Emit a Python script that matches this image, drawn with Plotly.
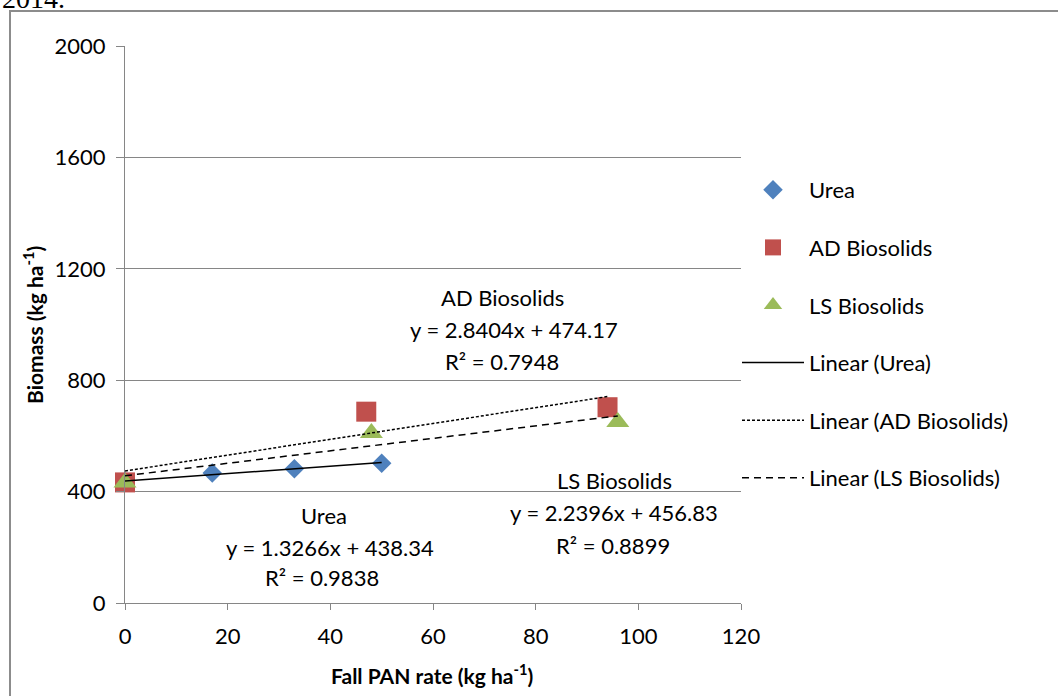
import plotly.graph_objects as go

# ---- data ----
urea_x = [0, 17, 33, 50]
urea_y = [435, 467, 482, 502]
ad_x = [0, 47, 94]
ad_y = [433, 687, 703]
ls_x = [0, 48, 96]
ls_y = [433, 610, 650]

# trendline coefficients (slope, intercept, R2) as printed on chart
urea_fit = (1.3266, 438.34, 0.9838)
ad_fit = (2.8404, 474.17, 0.7948)
ls_fit = (2.2396, 456.83, 0.8899)

x_ticks = [0, 20, 40, 60, 80, 100, 120]
y_ticks = [0, 400, 800, 1200, 1600, 2000]

colors = {"urea": "#4F81BD", "ad": "#C0504D", "ls": "#9BBB59"}
FONT = "Lato"

# plot area in pixels
W, H = 1058, 696
L, R, T, B = 125, 741, 46, 603


def px_x(p):
    return (p - L) / (R - L)


def px_y(p):
    return (B - p) / (B - T)


fig = go.Figure()

fig.add_trace(go.Scatter(x=urea_x, y=urea_y, mode="markers", name="Urea",
                         marker=dict(symbol="diamond", size=15, color=colors["urea"]),
                         cliponaxis=False, legendgroup="a"))
fig.add_trace(go.Scatter(x=ad_x, y=ad_y, mode="markers", name="AD Biosolids",
                         marker=dict(symbol="square", size=20, color=colors["ad"]),
                         cliponaxis=False, legendgroup="b"))
fig.add_trace(go.Scatter(x=ls_x, y=ls_y, mode="markers", name="LS Biosolids",
                         marker=dict(symbol="triangle-up", size=20, color=colors["ls"]),
                         cliponaxis=False, legendgroup="c"))


def trend(xs, fit):
    x0, x1 = min(xs), max(xs)
    return [x0, x1], [fit[1] + fit[0] * x0, fit[1] + fit[0] * x1]


tx, ty = trend(urea_x, urea_fit)
fig.add_trace(go.Scatter(x=tx, y=ty, mode="lines", name="Linear (Urea)",
                         line=dict(color="black", width=1.5), legendgroup="d"))
tx, ty = trend(ad_x, ad_fit)
fig.add_trace(go.Scatter(x=tx, y=ty, mode="lines", name="Linear (AD Biosolids)",
                         line=dict(color="black", width=1.5, dash="3px,2px"), legendgroup="e"))
tx, ty = trend(ls_x, ls_fit)
fig.add_trace(go.Scatter(x=tx, y=ty, mode="lines", name="Linear (LS Biosolids)",
                         line=dict(color="black", width=1.5, dash="7px,5px"), legendgroup="f"))

annotations = []


def add_text(text, cx, cy, size=22, bold=False, angle=0, family=FONT, xanchor="center", yanchor="middle"):
    annotations.append(dict(text=text, x=px_x(cx), y=px_y(cy), xref="paper", yref="paper",
                            showarrow=False, xanchor=xanchor, yanchor=yanchor, textangle=angle,
                            font=dict(family=family, size=size, color="black",
                                      weight="bold" if bold else "normal")))


def eq_block(name, fit, centers):
    lines = [name, f"y = {fit[0]}x + {fit[1]}", f"R² = {fit[2]}"]
    for txt, (cx, cy) in zip(lines, centers):
        add_text(txt, cx, cy)


eq_block("AD Biosolids", ad_fit, [(502, 297), (514, 329), (502, 361)])
eq_block("Urea", urea_fit, [(324, 515), (330, 547), (322, 577)])
eq_block("LS Biosolids", ls_fit, [(614, 480), (614, 512), (613, 545)])

add_text("Fall PAN rate (kg ha<sup>-1</sup>)", 432, 674, size=21, bold=True)
add_text("Biomass (kg ha<sup>-1</sup>)", 33, 325, size=21, bold=True, angle=-90)
add_text("2014.", 0, 16, size=28, family="Liberation Serif", xanchor="left", yanchor="bottom")

shapes = [dict(type="path", xref="paper", yref="paper",
               path=f"M {px_x(10)},{px_y(700)} L {px_x(10)},{px_y(11)} L {px_x(1062)},{px_y(11)}",
               line=dict(color="#8c8c8c", width=2))]

fig.update_layout(
    width=W, height=H,
    margin=dict(l=L, r=W - R, t=T, b=H - B, pad=0),
    paper_bgcolor="white", plot_bgcolor="white",
    font=dict(family=FONT, size=22, color="black"),
    showlegend=True,
    legend=dict(x=px_x(737), y=px_y(169), xanchor="left", yanchor="top",
                font=dict(family=FONT, size=22, color="black"),
                tracegroupgap=26, itemwidth=62, bgcolor="rgba(0,0,0,0)"),
    annotations=annotations,
    shapes=shapes,
)
fig.update_xaxes(range=[0, 120], tickvals=x_ticks, showgrid=False, zeroline=False,
                 showline=True, linecolor="#868686", linewidth=1,
                 ticks="outside", ticklen=6, tickcolor="#868686",
                 tickfont=dict(family=FONT, size=22), ticklabelstandoff=8)
fig.update_yaxes(range=[0, 2000], tickvals=y_ticks, showgrid=True, gridcolor="#868686",
                 gridwidth=1, zeroline=False, showline=True, linecolor="#868686", linewidth=1,
                 ticks="outside", ticklen=8, tickcolor="#868686",
                 tickfont=dict(family=FONT, size=22), ticklabelstandoff=6)

fig.write_html("out.html", config={"displayModeBar": False},
               post_script="document.body.style.margin='0px';")
